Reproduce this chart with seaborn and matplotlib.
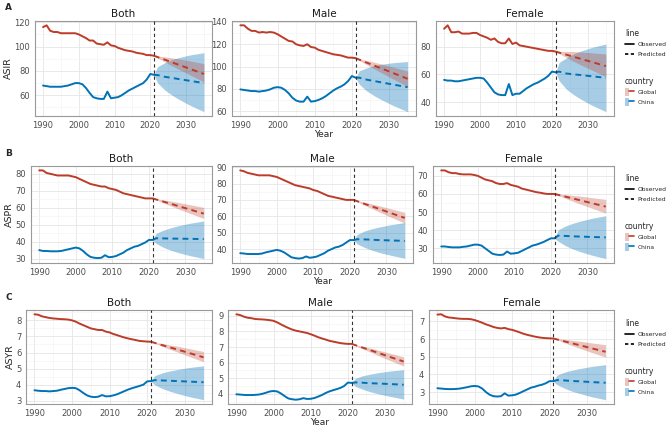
import numpy as np
import pandas as pd
import matplotlib
matplotlib.use("Agg")
import matplotlib.pyplot as plt
import seaborn as sns
from matplotlib.lines import Line2D
from matplotlib.patches import Patch
from matplotlib.legend_handler import HandlerTuple
from matplotlib.ticker import MultipleLocator

# ---------------- data ----------------
YEARS_OBS = list(range(1990, 2022))
PRED_YEARS = [2021, 2022, 2024, 2026, 2028, 2031, 2035]
COUNTRIES = ["Global", "China"]
SEXES = ["Both", "Male", "Female"]
MEASURES = ["ASIR", "ASPR", "ASYR"]
PANEL_LETTERS = ["A", "B", "C"]
X_TICKS = [1990, 2000, 2010, 2020, 2030]

# ASIR observed
asir_both_global = [116, 117.5, 113, 112, 112, 111, 111, 111, 111, 111, 110, 108.5, 107, 105, 105, 102.5,
                    102, 101.5, 103.5, 101, 100.5, 99, 98, 97, 96.5, 96, 95, 94.5, 94, 93, 93, 92.5]
asir_both_china = [68, 67.5, 67, 67, 67, 67, 67.5, 68, 69, 70, 70, 69, 66, 62, 58.5, 57.5,
                   57, 57, 63, 57.5, 58, 58.5, 60, 62, 64, 65.5, 67, 68.5, 70, 73, 77.5, 76.8]
asir_male_global = [137, 137, 134, 132, 132, 130.5, 131, 130.5, 131, 130.5, 129, 127, 125, 123, 122.5, 120,
                    119, 118.5, 120, 117.5, 117, 115, 114, 113, 112, 111, 110.5, 110, 109, 108, 108, 107.5]
asir_male_china = [79.5, 79, 78.5, 78, 78, 77.5, 78, 78.5, 79.5, 81, 81.5, 81, 79, 76, 72, 69.5,
                   68.5, 68.5, 73, 68.5, 69, 70, 71.5, 73.5, 76, 78.5, 80.5, 82, 84, 87, 91.5, 90]
asir_female_global = [93, 95.5, 90.5, 90.5, 91, 89.5, 89.5, 89.5, 90, 90, 88.5, 87.5, 86.5, 85, 86, 83.5,
                      82.5, 82.5, 86, 82, 83, 81, 80.5, 80, 79.5, 79, 78.5, 78, 77.5, 77, 77, 76.5]
asir_female_china = [56, 55.5, 55.5, 55, 55, 55.5, 56, 56.5, 57, 57.5, 57.5, 57, 54, 50.5, 47, 45.5,
                     45, 45, 53, 45, 46, 46, 48, 50, 51.5, 53, 54, 55.5, 57, 59, 62, 61.5]
# ASPR observed
aspr_both_global = [82, 82, 80.5, 80, 79.5, 79, 79, 79, 79, 78.5, 78, 77, 76, 75, 74, 73.5,
                    73, 72.5, 72.5, 71.5, 71, 70.5, 69.5, 68.5, 68, 67.5, 67, 66.5, 66, 65.5, 65.5, 65.5]
aspr_both_china = [35, 34.5, 34.5, 34.3, 34.3, 34.3, 34.5, 35, 35.5, 36, 36.5, 36, 34.5, 32.5, 31, 30.5,
                   30.3, 30.5, 32, 30.8, 31, 31.5, 32.5, 33.5, 35, 36, 37, 37.5, 38.5, 39.5, 41, 41]
aspr_male_global = [88, 87.5, 86.5, 86, 85.5, 85, 85, 85, 85, 84.5, 84, 83, 82, 81, 80, 79,
                    78.5, 78, 77.5, 77, 76, 75.5, 74.5, 73.5, 72.5, 72, 71.5, 71, 70.5, 70, 70, 70]
aspr_male_china = [37.5, 37.3, 37, 37, 37, 37, 37.3, 38, 38.5, 39, 39.5, 39, 38, 36.5, 35, 34.5,
                   34.2, 34.5, 35.5, 34.7, 35, 35.5, 36.5, 37.5, 39, 40, 41, 41.5, 42.5, 44, 45.5, 45.5]
aspr_female_global = [73, 73, 72, 71.5, 71.5, 71, 70.8, 70.8, 70.8, 70.5, 70, 69, 68, 67.5, 67, 66,
                      65.5, 65.5, 66, 65, 64.5, 64, 63, 62.5, 62, 61.5, 61, 60.7, 60.3, 60, 60, 60]
aspr_female_china = [31, 31, 30.7, 30.5, 30.5, 30.5, 30.8, 31, 31.5, 32, 32, 31.5, 30, 28.5, 27, 26.5,
                     26.3, 26.5, 28.2, 27, 27.2, 27.5, 28.5, 29.5, 30.5, 31.5, 32, 32.7, 33.5, 34.5, 35.5, 35.5]
# ASYR observed
asyr_both_global = [8.38, 8.35, 8.25, 8.2, 8.15, 8.12, 8.1, 8.08, 8.07, 8.05, 8.0, 7.92, 7.8, 7.7, 7.6, 7.5,
                    7.45, 7.4, 7.4, 7.3, 7.25, 7.15, 7.08, 7.0, 6.93, 6.87, 6.82, 6.77, 6.72, 6.7, 6.68, 6.67]
asyr_both_china = [3.65, 3.62, 3.6, 3.6, 3.58, 3.6, 3.62, 3.68, 3.73, 3.78, 3.8, 3.78, 3.65, 3.48, 3.33, 3.25,
                   3.22, 3.25, 3.35, 3.27, 3.28, 3.33, 3.4, 3.5, 3.6, 3.7, 3.78, 3.85, 3.92, 4.0, 4.2, 4.22]
asyr_male_global = [9.1, 9.05, 8.95, 8.88, 8.85, 8.8, 8.78, 8.77, 8.75, 8.72, 8.68, 8.58, 8.45, 8.33, 8.22, 8.12,
                    8.05, 8.0, 7.95, 7.9, 7.82, 7.73, 7.63, 7.55, 7.48, 7.4, 7.35, 7.3, 7.25, 7.22, 7.2, 7.2]
asyr_male_china = [3.97, 3.95, 3.93, 3.92, 3.92, 3.93, 3.95, 4.0, 4.07, 4.15, 4.18, 4.15, 4.02, 3.85, 3.7, 3.65,
                   3.62, 3.65, 3.72, 3.67, 3.68, 3.73, 3.82, 3.92, 4.05, 4.15, 4.23, 4.3, 4.38, 4.5, 4.72, 4.7]
asyr_female_global = [7.38, 7.4, 7.28, 7.22, 7.2, 7.17, 7.15, 7.14, 7.14, 7.12, 7.07, 7.0, 6.92, 6.83, 6.76, 6.68,
                      6.63, 6.6, 6.63, 6.56, 6.52, 6.45, 6.38, 6.3, 6.24, 6.19, 6.14, 6.1, 6.07, 6.05, 6.04, 6.03]
asyr_female_china = [3.22, 3.2, 3.18, 3.17, 3.17, 3.18, 3.2, 3.24, 3.28, 3.33, 3.35, 3.32, 3.2, 3.0, 2.85, 2.77,
                     2.75, 2.77, 2.93, 2.8, 2.82, 2.86, 2.95, 3.05, 3.15, 3.25, 3.3, 3.37, 3.42, 3.5, 3.62, 3.62]

# Predictions (mean, lower, upper) at PRED_YEARS
asir_both_global_pred = [92.5, 91.4, 89.3, 87.1, 85.0, 81.8, 77.5]
asir_both_global_lo = [92.5, 90.75, 87.55, 84.3, 81.3, 76.9, 71.0]
asir_both_global_hi = [92.5, 92.25, 91.6, 90.8, 89.8, 88.3, 86.0]
asir_both_china_pred = [76.8, 76.6, 75.2, 74.3, 73.3, 71.9, 70.0]
asir_both_china_lo = [76.8, 70.3, 64.4, 60.2, 56.6, 51.9, 46.5]
asir_both_china_hi = [76.8, 83.4, 86.7, 89.3, 91.0, 93.1, 95.0]

asir_male_global_pred = [107.5, 106.2, 103.5, 100.9, 98.25, 94.3, 89.0]
asir_male_global_lo = [107.5, 105.5, 101.6, 97.9, 94.3, 89.0, 82.0]
asir_male_global_hi = [107.5, 106.9, 105.4, 103.9, 102.2, 99.6, 96.0]
asir_male_china_pred = [90.0, 90.0, 88.2, 87.0, 85.75, 83.9, 81.5]
asir_male_china_lo = [90.0, 84.1, 78.1, 73.8, 70.15, 65.2, 59.5]
asir_male_china_hi = [90.0, 96.2, 98.8, 100.8, 102.05, 103.45, 104.5]

asir_female_global_pred = [76.5, 75.75, 74.25, 72.75, 71.25, 69.0, 66.0]
asir_female_global_lo = [76.5, 75.0, 72.2, 69.5, 66.9, 63.2, 58.4]
asir_female_global_hi = [76.5, 76.6, 76.6, 76.5, 76.2, 75.6, 74.7]
asir_female_china_pred = [61.5, 62.0, 60.64, 60.07, 59.5, 58.64, 57.5]
asir_female_china_lo = [61.5, 55.4, 49.3, 45.4, 42.1, 37.8, 33.0]
asir_female_china_hi = [61.5, 68.6, 71.9, 74.8, 76.9, 79.4, 82.0]

aspr_both_global_pred = [65.5, 64.86, 63.57, 62.29, 61.0, 59.07, 56.5]
aspr_both_global_lo = [65.5, 64.57, 62.79, 61.04, 59.35, 56.87, 53.6]
aspr_both_global_hi = [65.5, 65.23, 64.57, 63.88, 63.1, 61.88, 60.2]
aspr_both_china_pred = [41.0, 42.0, 41.9, 41.8, 41.75, 41.65, 41.5]
aspr_both_china_lo = [41.0, 38.9, 36.6, 34.9, 33.55, 31.85, 30.0]
aspr_both_china_hi = [41.0, 44.9, 46.8, 48.2, 49.35, 50.75, 52.2]

aspr_male_global_pred = [70.0, 69.2, 67.6, 66.1, 64.5, 62.1, 59.0]
aspr_male_global_lo = [70.0, 68.9, 66.75, 64.7, 62.7, 59.7, 55.8]
aspr_male_global_hi = [70.0, 69.55, 68.5, 67.55, 66.4, 64.7, 62.4]
aspr_male_china_pred = [45.5, 46.0, 45.9, 45.7, 45.5, 45.3, 45.0]
aspr_male_china_lo = [45.5, 43.15, 41.0, 39.35, 37.95, 36.3, 34.4]
aspr_male_china_hi = [45.5, 49.0, 51.05, 52.4, 53.45, 54.8, 56.2]

aspr_female_global_pred = [60.0, 59.5, 58.5, 57.5, 56.5, 55.0, 53.0]
aspr_female_global_lo = [60.0, 59.15, 57.5, 55.95, 54.45, 52.25, 49.4]
aspr_female_global_hi = [60.0, 59.9, 59.6, 59.2, 58.8, 58.0, 57.0]
aspr_female_china_pred = [35.5, 37.0, 36.8, 36.6, 36.45, 36.25, 36.0]
aspr_female_china_lo = [35.5, 33.85, 31.4, 29.6, 28.15, 26.3, 24.3]
aspr_female_china_hi = [35.5, 40.2, 42.3, 43.8, 44.95, 46.45, 48.0]

asyr_both_global_pred = [6.67, 6.60, 6.46, 6.32, 6.19, 5.98, 5.70]
asyr_both_global_lo = [6.67, 6.57, 6.38, 6.20, 6.03, 5.77, 5.42]
asyr_both_global_hi = [6.67, 6.64, 6.56, 6.47, 6.40, 6.25, 6.06]
asyr_both_china_pred = [4.22, 4.28, 4.26, 4.24, 4.22, 4.19, 4.15]
asyr_both_china_lo = [4.22, 3.99, 3.76, 3.59, 3.45, 3.26, 3.06]
asyr_both_china_hi = [4.22, 4.56, 4.73, 4.85, 4.94, 5.06, 5.17]

asyr_male_global_pred = [7.2, 7.12, 6.96, 6.80, 6.64, 6.39, 6.07]
asyr_male_global_lo = [7.2, 7.09, 6.88, 6.68, 6.47, 6.17, 5.78]
asyr_male_global_hi = [7.2, 7.15, 7.04, 6.93, 6.81, 6.62, 6.37]
asyr_male_china_pred = [4.7, 4.73, 4.71, 4.68, 4.66, 4.63, 4.58]
asyr_male_china_lo = [4.7, 4.48, 4.29, 4.13, 4.01, 3.85, 3.66]
asyr_male_china_hi = [4.7, 4.99, 5.16, 5.26, 5.35, 5.45, 5.55]

asyr_female_global_pred = [6.03, 5.98, 5.87, 5.76, 5.655, 5.49, 5.28]
asyr_female_global_lo = [6.03, 5.95, 5.79, 5.63, 5.48, 5.26, 4.98]
asyr_female_global_hi = [6.03, 6.02, 5.98, 5.93, 5.88, 5.79, 5.68]
asyr_female_china_pred = [3.62, 3.68, 3.66, 3.63, 3.61, 3.57, 3.53]
asyr_female_china_lo = [3.62, 3.42, 3.22, 3.05, 2.93, 2.75, 2.57]
asyr_female_china_hi = [3.62, 3.96, 4.13, 4.24, 4.33, 4.44, 4.55]

# ---------------- assemble long tables ----------------
g = globals()
obs_rows, pred_rows = [], []
for m in MEASURES:
    for s in SEXES:
        for c in COUNTRIES:
            key = f"{m.lower()}_{s.lower()}_{c.lower()}"
            for y, v in zip(YEARS_OBS, g[key]):
                obs_rows.append((m, s, c, y, v))
            for y, v, lo, hi in zip(PRED_YEARS, g[key + "_pred"], g[key + "_lo"], g[key + "_hi"]):
                pred_rows.append((m, s, c, y, v, lo, hi))
obs_df = pd.DataFrame(obs_rows, columns=["measure", "sex", "country", "year", "value"])
pred_df = pd.DataFrame(pred_rows, columns=["measure", "sex", "country", "year", "value", "lo", "hi"])

# ---------------- styling ----------------
sns.set_theme(style="white")
plt.rcParams["font.family"] = ["DejaVu Sans"]
COLORS = {"Global": "#BC3C29", "China": "#0072B5"}
ALPHAS = {"Global": 0.30, "China": 0.35}

W, H = 669, 428
fig = plt.figure(figsize=(W / 100, H / 100), dpi=100)

ROW_TB = [(21, 116), (166, 263), (310, 404)]
ROW_COLS = [
    [(35, 212), (232, 416), (436, 614)],
    [(31, 212), (232, 413), (433, 614)],
    [(26, 212), (228, 412), (429, 614)],
]
Y_STEPS = [[20, 20, 20], [10, 10, 10], [1, 1, 1]]
LETTER_Y = [8, 153, 298]
LEG_LINE_Y = [26, 171, 316]
LEG_CTRY_Y = [74, 219, 364]

for r, m in enumerate(MEASURES):
    top, bot = ROW_TB[r]
    for ci, s in enumerate(SEXES):
        l, rr = ROW_COLS[r][ci]
        ax = fig.add_axes([l / W, 1 - bot / H, (rr - l) / W, (bot - top) / H])
        o = obs_df[(obs_df.measure == m) & (obs_df.sex == s)]
        p = pred_df[(pred_df.measure == m) & (pred_df.sex == s)]
        # ribbons (China first, Global on top)
        for c in ["China", "Global"]:
            pc = p[p.country == c]
            ax.fill_between(pc.year, pc.lo, pc.hi, color=COLORS[c], alpha=ALPHAS[c],
                            lw=0, zorder=2)
        sns.lineplot(data=o, x="year", y="value", hue="country", palette=COLORS,
                     hue_order=COUNTRIES, ax=ax, legend=False, lw=1.4, zorder=4)
        sns.lineplot(data=p, x="year", y="value", hue="country", palette=COLORS,
                     hue_order=COUNTRIES, ax=ax, legend=False, lw=1.4, zorder=4)
        for ln in ax.lines[2:4]:
            ln.set_linestyle((0, (3, 2.2)))
        ax.axvline(2021, color="#333333", lw=0.8, ls=(0, (3, 2.5)), zorder=5)

        # limits like ggplot (5% expansion)
        ymin = min(o.value.min(), p.lo.min())
        ymax = max(o.value.max(), p.hi.max())
        pad = 0.05 * (ymax - ymin)
        ax.set_ylim(ymin - pad, ymax + pad)
        ax.set_xlim(1990 - 0.05 * 45, 2035 + 0.05 * 45)
        ax.set_xticks(X_TICKS)
        ax.xaxis.set_minor_locator(MultipleLocator(5))
        ax.yaxis.set_major_locator(MultipleLocator(Y_STEPS[r][ci]))
        ax.yaxis.set_minor_locator(MultipleLocator(Y_STEPS[r][ci] / 2))
        ax.grid(which="major", color="#E5E5E5", lw=0.6, zorder=0)
        ax.grid(which="minor", color="#F2F2F2", lw=0.4, zorder=0)
        ax.set_axisbelow(True)
        for sp in ax.spines.values():
            sp.set_color("#9A9A9A")
            sp.set_linewidth(0.8)
        ax.tick_params(axis="both", which="major", labelsize=6, colors="#4D4D4D",
                       length=2.2, width=0.5, pad=1.2)
        ax.tick_params(axis="both", which="minor", length=0)
        ax.set_title(s, fontsize=7.5, pad=3, color="#1A1A1A")
        ax.set_xlabel("Year" if s == "Male" else "", fontsize=6.5, labelpad=0)
        ax.set_ylabel(m if s == "Both" else "", fontsize=6.8, labelpad=1)

    fig.text(5 / W, 1 - LETTER_Y[r] / H, PANEL_LETTERS[r], fontsize=6.5,
             fontweight="bold", va="center", ha="left")

    line_handles = [Line2D([], [], color="black", lw=1.2, ls="-"),
                    Line2D([], [], color="black", lw=1.2, ls=(0, (2, 1.5)))]
    leg1 = fig.legend(line_handles, ["Observed", "Predicted"], title="line",
                      loc="upper left", bbox_to_anchor=(622 / W, 1 - LEG_LINE_Y[r] / H),
                      frameon=False, fontsize=4.3, title_fontsize=5.5,
                      handlelength=1.5, handletextpad=0.6, labelspacing=0.7,
                      borderpad=0, alignment="left")
    ctry_handles = [(Patch(facecolor=COLORS[c], alpha=ALPHAS[c], lw=0),
                     Line2D([], [], color=COLORS[c], lw=1.2)) for c in COUNTRIES]
    leg2 = fig.legend(ctry_handles, COUNTRIES, title="country",
                      handler_map={tuple: HandlerTuple(ndivide=None, pad=0)},
                      loc="upper left", bbox_to_anchor=(622 / W, 1 - LEG_CTRY_Y[r] / H),
                      frameon=False, fontsize=4.3, title_fontsize=5.5,
                      handlelength=1.5, handleheight=1.6, handletextpad=0.6,
                      labelspacing=0.4, borderpad=0, alignment="left")

fig.savefig("out.png", dpi=100)
